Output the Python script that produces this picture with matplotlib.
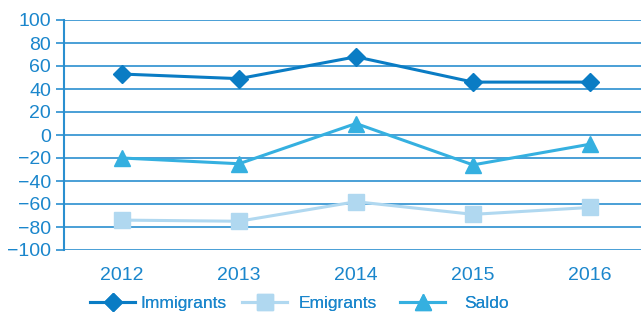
import matplotlib
matplotlib.use("Agg")
import matplotlib.pyplot as plt
from matplotlib import font_manager

years = ["2012", "2013", "2014", "2015", "2016"]
immigrants = [53, 49, 68, 46, 46]
emigrants = [-74, -75, -58, -69, -63]
saldo = [-20, -25, 10, -26, -8]
yticks = list(range(-100, 101, 20))

fams = {f.name for f in font_manager.fontManager.ttflist}
fam = "Liberation Sans Narrow" if "Liberation Sans Narrow" in fams else "Liberation Sans"
plt.rcParams["font.family"] = [fam, "DejaVu Sans"]

txt = "#1a86cc"
grid = "#2a8fd0"
c_imm = "#0a7cc4"
c_emi = "#b0d8f0"
c_sal = "#35b0e0"

fig = plt.figure(figsize=(6.41, 3.13), dpi=100)
ax = fig.add_axes([63.5/641, 1-250/313, 1-63.5/641, 230/313])
x = list(range(len(years)))
l1, = ax.plot(x, immigrants, color=c_imm, lw=2.2, marker="D", ms=9, label="Immigrants")
l2, = ax.plot(x, emigrants, color=c_emi, lw=2.2, marker="s", ms=11, label="Emigrants")
l3, = ax.plot(x, saldo, color=c_sal, lw=2.2, marker="^", ms=11, label="Saldo")

ax.set_ylim(-100, 100)
ax.set_xlim(-0.5, 4.436)
ax.set_yticks(yticks)
ax.set_xticks(x)
ax.set_xticklabels(years)
ax.yaxis.grid(True, color=grid, lw=1.2)
ax.set_axisbelow(True)
for s in ["top", "right", "bottom"]:
    ax.spines[s].set_visible(False)
ax.spines["left"].set_color(grid)
ax.spines["left"].set_linewidth(1.5)
ax.tick_params(axis="y", colors=txt, labelsize=14, length=6, width=1.2, color=grid, pad=3)
ax.tick_params(axis="x", colors=txt, labelsize=14, length=0, pad=12)

fs = 12.5
hl = 45 / (fs * 100 / 72)
for line, x0, gap in [(l1, 90, 5), (l2, 242, 12), (l3, 400, 19)]:
    lg = fig.legend(handles=[line], loc="center left", bbox_to_anchor=(x0/641, 1-303/313),
                    frameon=False, fontsize=fs, labelcolor=txt, handlelength=hl,
                    handletextpad=gap / (fs * 100 / 72), borderpad=0, borderaxespad=0)
    fig.add_artist(lg)
fig.savefig("out.png", dpi=100)
